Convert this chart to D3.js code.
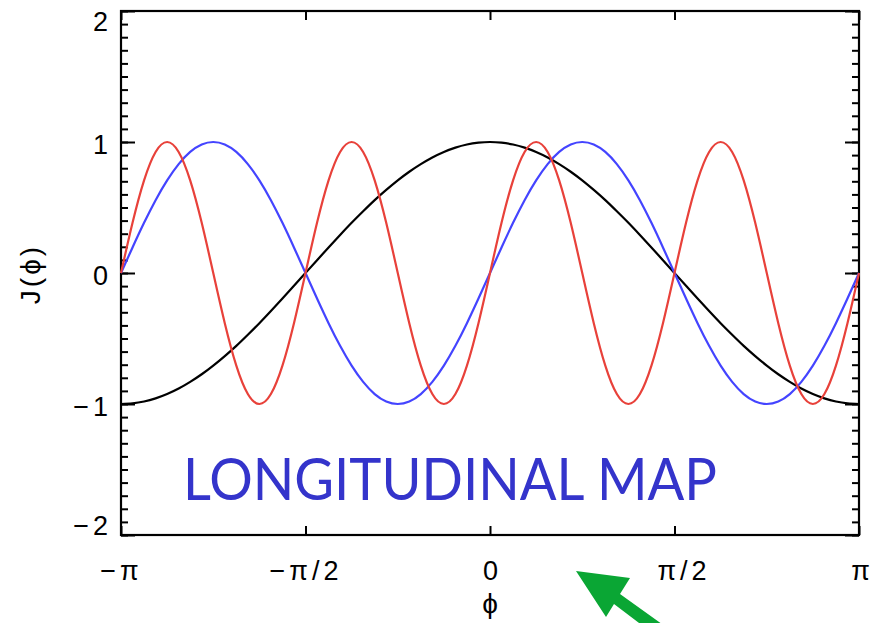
<!DOCTYPE html>
<html>
<head>
<meta charset="utf-8">
<script src="https://cdn.jsdelivr.net/npm/d3@7"></script>
<style>
  html, body { margin: 0; padding: 0; background: #ffffff; }
  svg { display: block; }
  .tick text { font-family: "Liberation Sans", Arial, sans-serif; }
</style>
</head>
<body>
<svg id="chart" width="875" height="623"></svg>
<script>
// Longitude in steps of pi/32, from -pi to pi
const phiSteps = [
  -32, -31, -30, -29, -28, -27, -26, -25, -24, -23, -22, -21, -20, -19, -18, -17,
  -16, -15, -14, -13, -12, -11, -10, -9, -8, -7, -6, -5, -4, -3, -2, -1,
  0, 1, 2, 3, 4, 5, 6, 7, 8, 9, 10, 11, 12, 13, 14, 15,
  16, 17, 18, 19, 20, 21, 22, 23, 24, 25, 26, 27, 28, 29, 30, 31, 32
];

// J(phi) for the three longitudinal maps
const blackJ = [
  -1.000, -0.995, -0.981, -0.957, -0.924, -0.882, -0.831, -0.773, -0.707, -0.634, -0.556, -0.471, -0.383, -0.290, -0.195, -0.098,
  0.000, 0.098, 0.195, 0.290, 0.383, 0.471, 0.556, 0.634, 0.707, 0.773, 0.831, 0.882, 0.924, 0.957, 0.981, 0.995,
  1.000, 0.995, 0.981, 0.957, 0.924, 0.882, 0.831, 0.773, 0.707, 0.634, 0.556, 0.471, 0.383, 0.290, 0.195, 0.098,
  0.000, -0.098, -0.195, -0.290, -0.383, -0.471, -0.556, -0.634, -0.707, -0.773, -0.831, -0.882, -0.924, -0.957, -0.981, -0.995, -1.000
];
const blueJ = [
  0.000, 0.195, 0.383, 0.556, 0.707, 0.831, 0.924, 0.981, 1.000, 0.981, 0.924, 0.831, 0.707, 0.556, 0.383, 0.195,
  0.000, -0.195, -0.383, -0.556, -0.707, -0.831, -0.924, -0.981, -1.000, -0.981, -0.924, -0.831, -0.707, -0.556, -0.383, -0.195,
  0.000, 0.195, 0.383, 0.556, 0.707, 0.831, 0.924, 0.981, 1.000, 0.981, 0.924, 0.831, 0.707, 0.556, 0.383, 0.195,
  0.000, -0.195, -0.383, -0.556, -0.707, -0.831, -0.924, -0.981, -1.000, -0.981, -0.924, -0.831, -0.707, -0.556, -0.383, -0.195, 0.000
];
const redJ = [
  0.000, 0.383, 0.707, 0.924, 1.000, 0.924, 0.707, 0.383, 0.000, -0.383, -0.707, -0.924, -1.000, -0.924, -0.707, -0.383,
  0.000, 0.383, 0.707, 0.924, 1.000, 0.924, 0.707, 0.383, 0.000, -0.383, -0.707, -0.924, -1.000, -0.924, -0.707, -0.383,
  0.000, 0.383, 0.707, 0.924, 1.000, 0.924, 0.707, 0.383, 0.000, -0.383, -0.707, -0.924, -1.000, -0.924, -0.707, -0.383,
  0.000, 0.383, 0.707, 0.924, 1.000, 0.924, 0.707, 0.383, 0.000, -0.383, -0.707, -0.924, -1.000, -0.924, -0.707, -0.383, 0.000
];

// Axis ticks
const xTickSteps = [-32, -16, 0, 16, 32];
const xTickLabels = ["\u2212\u03C0", "\u2212\u03C0/2", "0", "\u03C0/2", "\u03C0"];
const yMajorTicks = [-2, -1, 0, 1, 2];
const yTickLabels = ["\u22122", "\u22121", "0", "1", "2"];
const yMinorTicks = d3.range(-20, 21).map(v => v / 10);

const series = [
  { values: blackJ, color: "#000000" },
  { values: blueJ, color: "#4444ff" },
  { values: redJ, color: "#e8413a" }
];

const svg = d3.select("#chart");
const plotLeft = 121, plotRight = 859, plotTop = 11, plotBottom = 535;

const x = d3.scaleLinear().domain([-32, 32]).range([plotLeft, plotRight]);
const y = d3.scaleLinear().domain([-2, 2]).range([plotBottom, plotTop]);

const axisFont = 27;
const labelSpacing = 4;
// end labels are kept inside the frame; inner ones sit just off their tick
const yLabelNudge = [-9, 3, 3, 3, 11];
const xLabelNudge = [-2, -2, 0, 7, 1];

// Left axis: minor then major ticks, pointing inward
svg.append("g").attr("transform", `translate(${plotLeft},0)`)
  .call(d3.axisLeft(y).tickValues(yMinorTicks).tickSize(-7).tickFormat(""))
  .call(g => g.select(".domain").remove());
svg.append("g").attr("transform", `translate(${plotLeft},0)`)
  .call(d3.axisLeft(y).tickValues(yMajorTicks).tickSize(-14).tickPadding(13 - labelSpacing)
    .tickFormat((d, i) => yTickLabels[i]))
  .call(g => g.select(".domain").remove())
  .call(g => g.selectAll("text")
    .attr("font-size", axisFont).attr("fill", "#000")
    .attr("letter-spacing", labelSpacing)
    .attr("y", (d, i) => yLabelNudge[i]));

// Right axis: ticks only
svg.append("g").attr("transform", `translate(${plotRight},0)`)
  .call(d3.axisRight(y).tickValues(yMinorTicks).tickSize(-7).tickFormat(""))
  .call(g => g.select(".domain").remove());
svg.append("g").attr("transform", `translate(${plotRight},0)`)
  .call(d3.axisRight(y).tickValues(yMajorTicks).tickSize(-14).tickFormat(""))
  .call(g => g.select(".domain").remove());

// Bottom axis with pi labels
svg.append("g").attr("transform", `translate(0,${plotBottom})`)
  .call(d3.axisBottom(x).tickValues(xTickSteps).tickSize(-9).tickPadding(26)
    .tickFormat((d, i) => xTickLabels[i]))
  .call(g => g.select(".domain").remove())
  .call(g => g.selectAll("text")
    .attr("font-size", axisFont).attr("fill", "#000")
    .attr("letter-spacing", labelSpacing)
    .attr("x", (d, i) => xLabelNudge[i] + labelSpacing / 2));

// Top axis: ticks only
svg.append("g").attr("transform", `translate(0,${plotTop})`)
  .call(d3.axisTop(x).tickValues(xTickSteps).tickSize(-9).tickFormat(""))
  .call(g => g.select(".domain").remove());

svg.selectAll(".tick line").attr("stroke", "#000").attr("stroke-width", 2);

// Plot frame
svg.append("rect")
  .attr("x", plotLeft).attr("y", plotTop)
  .attr("width", plotRight - plotLeft).attr("height", plotBottom - plotTop)
  .attr("fill", "none").attr("stroke", "#000").attr("stroke-width", 2.2);

// Curves
const line = d3.line()
  .x((d, i) => x(phiSteps[i]))
  .y(d => y(d))
  .curve(d3.curveNatural);

svg.append("g").selectAll("path")
  .data(series)
  .join("path")
  .attr("d", s => line(s.values))
  .attr("fill", "none")
  .attr("stroke", s => s.color)
  .attr("stroke-width", 2.2)
  .attr("stroke-linejoin", "round");

// Axis titles
svg.append("text")
  .attr("transform", "translate(40,274) rotate(-90)")
  .attr("text-anchor", "middle")
  .attr("font-family", "'Liberation Sans', 'DejaVu Sans', sans-serif")
  .attr("font-size", 28)
  .attr("letter-spacing", 3)
  .text("J(\u03D5)");

svg.append("text")
  .attr("x", x(0)).attr("y", 613)
  .attr("text-anchor", "middle")
  .attr("font-family", "'Liberation Sans', 'DejaVu Sans', sans-serif")
  .attr("font-size", 28)
  .text("\u03D5");

// Title inside the plot
svg.append("text")
  .attr("x", 183).attr("y", 500)
  .attr("font-family", "Lato, 'Open Sans', sans-serif")
  .attr("font-size", 58)
  .attr("fill", "#3434cb")
  .attr("textLength", 534)
  .attr("lengthAdjust", "spacingAndGlyphs")
  .text("LONGITUDINAL MAP");

// Green pointer arrow
const arrowPts = [
  [576, 571], [630, 578], [620, 594], [680, 637],
  [672, 648], [614, 604], [606, 617]
];
svg.append("path")
  .attr("d", "M" + arrowPts.map(p => p.join(",")).join("L") + "Z")
  .attr("fill", "#0aa634");
</script>
</body>
</html>
